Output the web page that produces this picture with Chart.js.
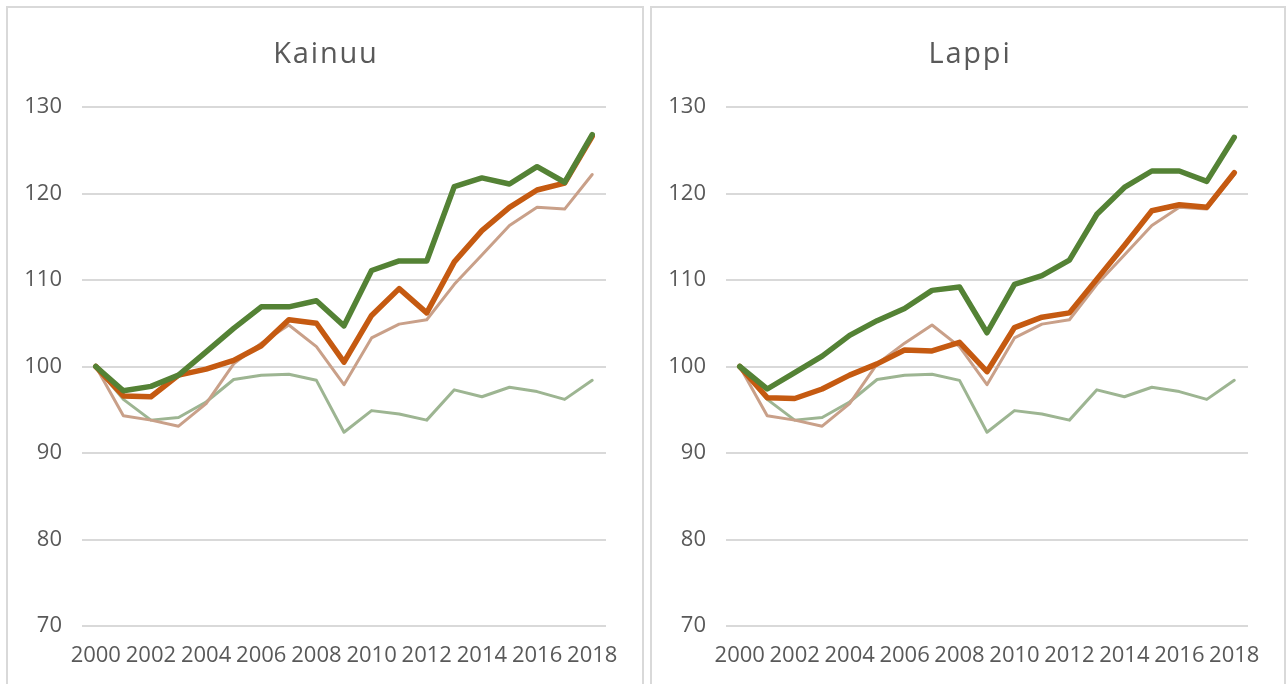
<!DOCTYPE html>
<html>
<head>
<meta charset="utf-8">
<script src="https://cdn.jsdelivr.net/npm/chart.js@4/dist/chart.umd.min.js"></script>
<style>
  html, body { margin: 0; padding: 0; background: #ffffff; overflow: hidden; }
  body { width: 1287px; height: 684px; position: relative; }
  .panel { position: absolute; top: 6px; height: 700px; border: 2px solid #d9d9d9; background: #fff; box-sizing: border-box; }
  .panel canvas { position: absolute; left: 0; top: 0; }
  .title { position: absolute; top: 37px; width: 300px; text-align: center; font-family: 'Open Sans', 'DejaVu Sans', sans-serif;
           font-size: 29px; line-height: 29px; letter-spacing: 1.8px; color: #595959; }
</style>
</head>
<body>
<div class="panel" id="p1" style="left:6px; width:638px;"><canvas id="c1"></canvas></div>
<div class="panel" id="p2" style="left:650px; width:636px;"><canvas id="c2"></canvas></div>
<div class="title" id="t1" style="left:176px;"></div>
<div class="title" id="t2" style="left:820px;"></div>
<script>
const years = ['2000','2001','2002','2003','2004','2005','2006','2007','2008','2009','2010','2011','2012','2013','2014','2015','2016','2017','2018'];
const yTicks = [70, 80, 90, 100, 110, 120, 130];

const titleKainuu = 'Kainuu';
const titleLappi = 'Lappi';

// Kainuu
const kainuuGreen  = [100, 97.2, 97.7, 99.0, 101.7, 104.4, 106.9, 106.9, 107.6, 104.7, 111.1, 112.2, 112.2, 120.8, 121.8, 121.1, 123.1, 121.3, 126.8];
const kainuuOrange = [100, 96.6, 96.5, 99.0, 99.7, 100.7, 102.4, 105.4, 105.0, 100.5, 105.9, 109.0, 106.2, 112.1, 115.7, 118.4, 120.4, 121.2, 126.6];

// Lappi
const lappiGreen  = [100, 97.4, 99.3, 101.2, 103.6, 105.3, 106.7, 108.8, 109.2, 103.9, 109.5, 110.5, 112.3, 117.6, 120.7, 122.6, 122.6, 121.4, 126.5];
const lappiOrange = [100, 96.4, 96.3, 97.4, 99.0, 100.3, 101.9, 101.8, 102.8, 99.4, 104.5, 105.7, 106.2, 110.1, 114.0, 118.0, 118.7, 118.4, 122.4];

// Reference lines (same in both panels)
const refTan  = [100, 94.3, 93.8, 93.1, 95.7, 100.3, 102.7, 104.8, 102.3, 97.9, 103.3, 104.9, 105.4, 109.5, 112.9, 116.3, 118.4, 118.2, 122.2];
const refSage = [100, 96.2, 93.8, 94.1, 95.9, 98.5, 99.0, 99.1, 98.4, 92.4, 94.9, 94.5, 93.8, 97.3, 96.5, 97.6, 97.1, 96.2, 98.4];

const FONT = "'Open Sans', 'DejaVu Sans', sans-serif";
const TXT = '#595959';

document.getElementById('t1').textContent = titleKainuu;
document.getElementById('t2').textContent = titleLappi;

function makeChart(id, w, green, orange) {
  const cv = document.getElementById(id);
  cv.width = w; cv.height = 676;
  cv.style.width = w + 'px'; cv.style.height = '676px';
  return new Chart(cv, {
    type: 'line',
    data: {
      labels: years,
      datasets: [
        { data: green,  borderColor: '#548235', borderWidth: 5.5, order: 1 },
        { data: orange, borderColor: '#C55A11', borderWidth: 5.5, order: 2 },
        { data: refTan, borderColor: '#C9A089', borderWidth: 3, order: 3 },
        { data: refSage, borderColor: '#9DB592', borderWidth: 3, order: 4 }
      ].map(d => Object.assign(d, { pointRadius: 0, pointHoverRadius: 0, tension: 0, fill: false, borderJoinStyle: 'round', borderCapStyle: 'round' }))
    },
    options: {
      responsive: false,
      animation: false,
      events: [],
      layout: { padding: { left: 0, right: 36, top: 99, bottom: 0 } },
      plugins: {
        legend: { display: false },
        tooltip: { enabled: false },
        title: { display: false }
      },
      scales: {
        x: {
          offset: true,
          grid: { display: false, drawTicks: false },
          border: { display: false },
          ticks: {
            autoSkip: false,
            maxRotation: 0,
            minRotation: 0,
            padding: 17,
            color: TXT,
            font: { family: FONT, size: 22 },
            callback: function (v, i) { return i % 2 === 0 ? years[i] : null; }
          },
          afterFit: function (s) { s.height = 58; }
        },
        y: {
          min: 70,
          max: 130,
          afterBuildTicks: function (s) { s.ticks = yTicks.map(v => ({ value: v })); },
          grid: { color: '#d9d9d9', lineWidth: 2, drawTicks: false },
          border: { display: false },
          ticks: {
            padding: 20,
            color: TXT,
            font: { family: FONT, size: 22 }
          },
          afterFit: function (s) { s.width = 74; }
        }
      }
    }
  });
}

makeChart('c1', 634, kainuuGreen, kainuuOrange);
makeChart('c2', 632, lappiGreen, lappiOrange);
</script>
</body>
</html>
